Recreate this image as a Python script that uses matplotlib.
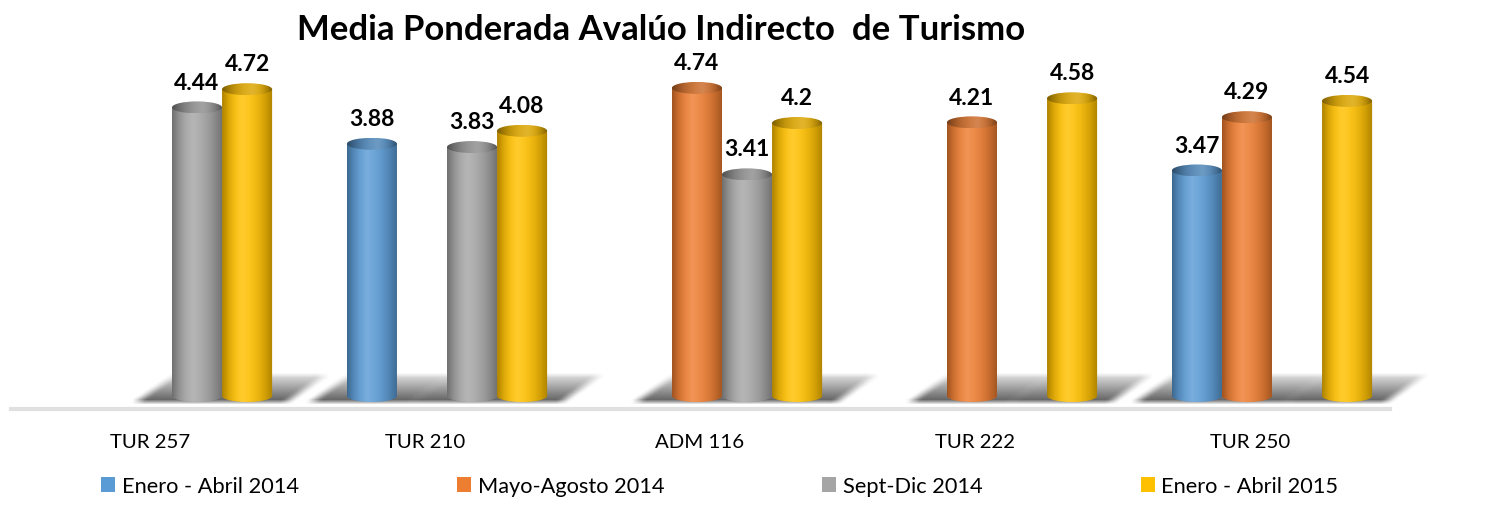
import numpy as np
import matplotlib
matplotlib.use('Agg')
import matplotlib.pyplot as plt
from matplotlib.patches import Ellipse, PathPatch, Patch
from matplotlib.path import Path
from matplotlib.colors import to_rgb

plt.rcParams['font.family'] = ['Lato', 'DejaVu Sans']

# datos
categorias = ['TUR 257', 'TUR 210', 'ADM 116', 'TUR 222', 'TUR 250']
series = ['Enero - Abril 2014', 'Mayo-Agosto 2014', 'Sept-Dic 2014', 'Enero - Abril 2015']
enero_abril_2014 = [np.nan, 3.88, np.nan, np.nan, 3.47]
mayo_agosto_2014 = [np.nan, np.nan, 4.74, 4.21, 4.29]
sept_dic_2014 = [4.44, 3.83, 3.41, np.nan, np.nan]
enero_abril_2015 = [4.72, 4.08, 4.2, 4.58, 4.54]
valores = [enero_abril_2014, mayo_agosto_2014, sept_dic_2014, enero_abril_2015]
colores = ['#5B9BD5', '#ED7D31', '#A5A5A5', '#FFC000']

fig = plt.figure(figsize=(15.01, 5.06), dpi=100)
ax = fig.add_axes([0, 86 / 506, 1, 380 / 506])
x0, x1 = -150 / 275, 1351 / 275
ax.set_xlim(x0, x1)
ax.set_ylim(-23 / 65, 357 / 65)
for s in ax.spines.values():
    s.set_visible(False)
ax.set_yticks([])

ancho = 0.182
desplaz = 0.08
eh = 12 / 65


def gradiente(color, n=60, claro=0.18, oscuro=0.32, pico=0.4):
    base = np.array(to_rgb(color))
    t = np.linspace(0, 1, n)
    d = np.abs(t - pico) / np.where(t < pico, pico, 1 - pico)
    luz = np.clip(1 - d, 0, 1) ** 1.5
    img = []
    for k in range(n):
        c = base * (1 - oscuro * d[k] ** 2)
        c = c + (1 - c) * claro * luz[k]
        img.append(c)
    return np.clip(np.array(img), 0, 1)[None, :, :]


x = np.arange(len(categorias))
centros = []
for j, vals in enumerate(valores):
    for i, v in enumerate(vals):
        if not np.isnan(v):
            centros.append(x[i] + desplaz + (j - 1.5) * ancho)

# sombra del piso (mascara difuminada)
yb, yt = -0.09, 0.33
gx = np.linspace(x0, x1, 1501)
gy = np.linspace(-0.3, 0.5, 52)
XX, YY = np.meshgrid(gx, gy)
f = (YY - yb) / (yt - yb)
dentro = (f >= 0) & (f <= 1)
mask = np.zeros_like(XX)
for c in centros:
    izq = c - ancho / 2 - 0.13 + f * 0.14
    der = c + ancho / 2 + 0.05 + f * 0.14
    mask = np.maximum(mask, ((XX >= izq) & (XX <= der) & dentro).astype(float))
inten = np.clip(0.95 - 0.75 * f, 0.15, 0.95)
mask = mask * inten
k1 = np.ones(13) / 13
k2 = np.ones(5) / 5
mask = np.apply_along_axis(lambda r: np.convolve(r, k1, mode='same'), 1, mask)
mask = np.apply_along_axis(lambda r: np.convolve(r, k2, mode='same'), 0, mask)
sombra = np.zeros(mask.shape + (4,))
sombra[..., :3] = 0.25
sombra[..., 3] = np.clip(mask * 0.9, 0, 1)
ax.imshow(sombra, extent=(x0, x1, gy[0], gy[-1]), origin='lower', aspect='auto',
          interpolation='bilinear', zorder=1)

ax.axhline(-0.2, xmin=0.007, xmax=0.926, color='#e0e0e0', lw=3, zorder=1)

# cilindros
for j, (vals, col) in enumerate(zip(valores, colores)):
    for i, v in enumerate(vals):
        if np.isnan(v):
            continue
        c = x[i] + desplaz + (j - 1.5) * ancho
        a, b = ancho / 2, eh / 2
        th = np.linspace(np.pi, 2 * np.pi, 40)
        verts = [(c - a, v)] + [(c + a * np.cos(t), b * np.sin(t)) for t in th] + [(c + a, v), (c - a, v)]
        cuerpo = PathPatch(Path(verts), facecolor='none', edgecolor='none')
        ax.add_patch(cuerpo)
        im = ax.imshow(gradiente(col), extent=(c - a, c + a, -b, v), aspect='auto',
                       interpolation='bilinear', zorder=3)
        im.set_clip_path(cuerpo)
        tapa = Ellipse((c, v), ancho, eh, facecolor='none', edgecolor='none')
        ax.add_patch(tapa)
        im2 = ax.imshow(gradiente(col, claro=0.2, oscuro=0.45, pico=0.6) * 0.88,
                        extent=(c - a, c + a, v - b, v + b), aspect='auto',
                        interpolation='bilinear', zorder=4)
        im2.set_clip_path(tapa)
        ax.text(c, v + 0.39, f'{v:g}', ha='center', va='center', fontsize=16.5,
                fontweight='bold', zorder=5)

ax.set_xticks(x)
ax.set_xticklabels(categorias, fontsize=14.7)
ax.tick_params(axis='x', length=0, pad=10)

fig.text(661 / 1501, 1 - 30 / 506, 'Media Ponderada Avalúo Indirecto  de Turismo',
         ha='center', va='center', fontsize=25, fontweight='bold')

handles = [Patch(facecolor=c) for c in colores]
fig.legend(handles, series, loc='center left', bbox_to_anchor=(101 / 1501, 1 - 487 / 506),
           ncol=4, frameon=False, fontsize=15.7, handlelength=0.65, handleheight=0.65,
           handletextpad=0.3, columnspacing=7.25, borderaxespad=0, borderpad=0)

fig.savefig('out.png', dpi=100)
